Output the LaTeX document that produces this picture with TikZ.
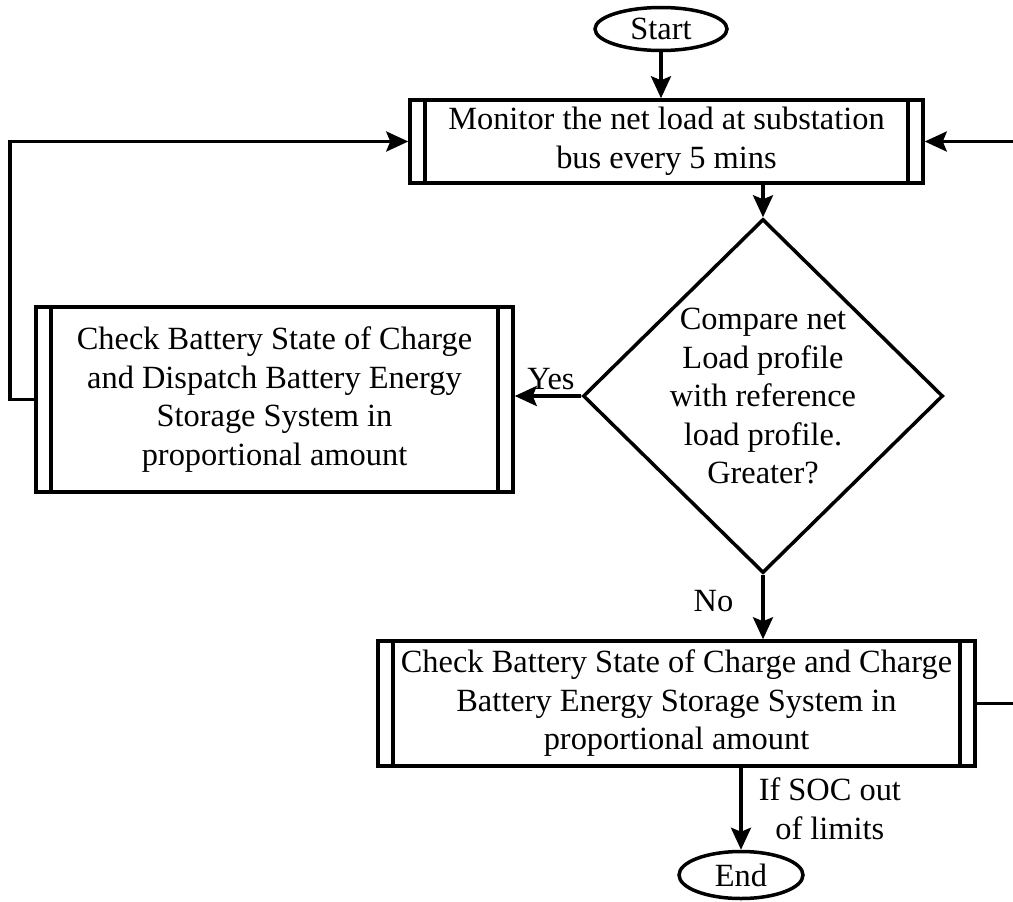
\documentclass[tikz,border=0pt]{standalone}
\usepackage{fontspec}
\setmainfont{Liberation Serif}
\usetikzlibrary{arrows.meta, positioning, shapes.geometric}

\tikzset{
  txt/.style={font=\fontsize{32.4pt}{38.5pt}\selectfont},
  term/.style={txt, ellipse, draw, line width=3.5pt, minimum width=132pt, minimum height=43pt, inner sep=0pt},
  procbox/.style={txt, rectangle, draw, line width=3.5pt, align=center, inner sep=0pt,
    path picture={
      \draw[line width=3.5pt] ([xshift=15pt]path picture bounding box.north west) -- ([xshift=15pt]path picture bounding box.south west);
      \draw[line width=3.5pt] ([xshift=-15pt]path picture bounding box.north east) -- ([xshift=-15pt]path picture bounding box.south east);
    }},
  decide/.style={txt, diamond, draw, line width=3.5pt, align=center, inner sep=-12pt, minimum width=360pt, minimum height=354pt},
  flow/.style={line width=3.5pt, -{Stealth[length=22pt, width=20pt, inset=4pt]}},
  lbl/.style={txt, inner sep=0pt, align=center}
}

\begin{document}
\begin{tikzpicture}[x=1pt, y=-1pt]
  \useasboundingbox (0,0) rectangle (1013,902);

  % start / end
  \node[term] (start) at (661,29) {Start};
  \node[term, minimum width=124pt, minimum height=47pt] (stop) at (741,875) {End};

  % process steps
  \node[procbox, minimum width=513pt, minimum height=83pt] (monbox) at (666.5,141.5)
    {Monitor the net load at substation\\bus every 5 mins};
  \node[decide] (cmp) at (763,396)
    {Compare net\\Load profile\\with reference\\load profile.\\Greater?};
  \node[procbox, minimum width=477pt, minimum height=185pt] (disbox) at (274.5,399.5)
    {Check Battery State of Charge\\and Dispatch Battery Energy\\Storage System in\\proportional amount};
  \node[procbox, minimum width=597pt, minimum height=125pt] (chgbox) at (676.5,703.5)
    {Check Battery State of Charge and Charge\\Battery Energy Storage System in\\proportional amount};

  % corners of the two loops back to monitoring
  \coordinate (lbend) at (10,0);
  \coordinate (rbend) at (1020,0);

  % main flow
  \draw[flow] (start.south) -- (start.south |- monbox.north);
  \draw[flow] (cmp.north |- monbox.south) -- (cmp.north);
  \draw[flow] (cmp.west) -- node[lbl, above=4pt, xshift=3pt] {Yes} (cmp.west -| disbox.east);
  \draw[flow] (cmp.south) -- node[lbl, left=28pt, yshift=6pt] {No} (cmp.south |- chgbox.north);
  \draw[flow] (chgbox.south -| stop.north) -- node[lbl, right=16pt] {If SOC out\\of limits} (stop.north);

  % loops
  \draw[flow] (disbox.west) -- (disbox.west -| lbend) |- (monbox.west);
  \draw[flow] (chgbox.east) -- (chgbox.east -| rbend) |- (monbox.east);
\end{tikzpicture}
\end{document}
